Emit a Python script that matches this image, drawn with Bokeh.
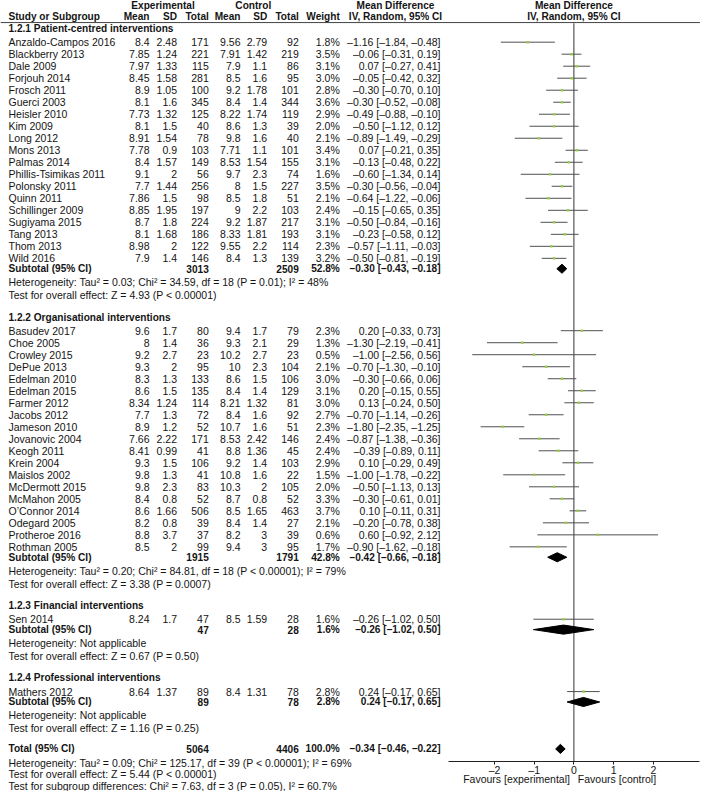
from bokeh.plotting import figure
from bokeh.models import Range1d, LinearAxis, FixedTicker, ColumnDataSource
from bokeh.core.properties import value
from bokeh.embed import file_html
from bokeh.resources import INLINE

# ---------------- data ----------------
g1_title = "1.2.1 Patient-centred interventions"
g1_study = ["Anzaldo-Campos 2016", "Blackberry 2013", "Dale 2009", "Forjouh 2014", "Frosch 2011",
            "Guerci 2003", "Heisler 2010", "Kim 2009", "Long 2012", "Mons 2013", "Palmas 2014",
            "Phillis-Tsimikas 2011", "Polonsky 2011", "Quinn 2011", "Schillinger 2009",
            "Sugiyama 2015", "Tang 2013", "Thom 2013", "Wild 2016"]
g1_e_mean = [8.4, 7.85, 7.97, 8.45, 8.9, 8.1, 7.73, 8.1, 8.91, 7.78, 8.4, 9.1, 7.7, 7.86, 8.85, 8.7, 8.1, 8.98, 7.9]
g1_e_sd = [2.48, 1.24, 1.33, 1.58, 1.05, 1.6, 1.32, 1.5, 1.54, 0.9, 1.57, 2, 1.44, 1.5, 1.95, 1.8, 1.68, 2, 1.4]
g1_e_n = [171, 221, 115, 281, 100, 345, 125, 40, 78, 103, 149, 56, 256, 98, 197, 224, 186, 122, 146]
g1_c_mean = [9.56, 7.91, 7.9, 8.5, 9.2, 8.4, 8.22, 8.6, 9.8, 7.71, 8.53, 9.7, 8, 8.5, 9, 9.2, 8.33, 9.55, 8.4]
g1_c_sd = [2.79, 1.42, 1.1, 1.6, 1.78, 1.4, 1.74, 1.3, 1.6, 1.1, 1.54, 2.3, 1.5, 1.8, 2.2, 1.87, 1.81, 2.2, 1.3]
g1_c_n = [92, 219, 86, 95, 101, 344, 119, 39, 40, 101, 155, 74, 227, 51, 103, 217, 193, 114, 139]
g1_weight = [1.8, 3.5, 3.1, 3.0, 2.8, 3.6, 2.9, 2.0, 2.1, 3.4, 3.1, 1.6, 3.5, 2.1, 2.4, 3.1, 3.1, 2.3, 3.2]
g1_md = [-1.16, -0.06, 0.07, -0.05, -0.30, -0.30, -0.49, -0.50, -0.89, 0.07, -0.13, -0.60, -0.30, -0.64, -0.15, -0.50, -0.23, -0.57, -0.50]
g1_lo = [-1.84, -0.31, -0.27, -0.42, -0.70, -0.52, -0.88, -1.12, -1.49, -0.21, -0.48, -1.34, -0.56, -1.22, -0.65, -0.84, -0.58, -1.11, -0.81]
g1_hi = [-0.48, 0.19, 0.41, 0.32, 0.10, -0.08, -0.10, 0.12, -0.29, 0.35, 0.22, 0.14, -0.04, -0.06, 0.35, -0.16, 0.12, -0.03, -0.19]
g1_sub = [3013, 2509, 52.8, -0.30, -0.43, -0.18]
g1_het = "Heterogeneity: Tau² = 0.03; Chi² = 34.59, df = 18 (P = 0.01); I² = 48%"
g1_test = "Test for overall effect: Z = 4.93 (P < 0.00001)"

g2_title = "1.2.2 Organisational interventions"
g2_study = ["Basudev 2017", "Choe 2005", "Crowley 2015", "DePue 2013", "Edelman 2010", "Edelman 2015",
            "Farmer 2012", "Jacobs 2012", "Jameson 2010", "Jovanovic 2004", "Keogh 2011", "Krein 2004",
            "Maislos 2002", "McDermott 2015", "McMahon 2005", "O’Connor 2014", "Odegard 2005",
            "Protheroe 2016", "Rothman 2005"]
g2_e_mean = [9.6, 8, 9.2, 9.3, 8.3, 8.6, 8.34, 7.7, 8.9, 7.66, 8.41, 9.3, 9.8, 9.8, 8.4, 8.6, 8.2, 8.8, 8.5]
g2_e_sd = [1.7, 1.4, 2.7, 2, 1.3, 1.5, 1.24, 1.3, 1.2, 2.22, 0.99, 1.5, 1.3, 2.3, 0.8, 1.66, 0.8, 3.7, 2]
g2_e_n = [80, 36, 23, 95, 133, 135, 114, 72, 52, 171, 41, 106, 41, 83, 52, 506, 39, 37, 99]
g2_c_mean = [9.4, 9.3, 10.2, 10, 8.6, 8.4, 8.21, 8.4, 10.7, 8.53, 8.8, 9.2, 10.8, 10.3, 8.7, 8.5, 8.4, 8.2, 9.4]
g2_c_sd = [1.7, 2.1, 2.7, 2.3, 1.5, 1.4, 1.32, 1.6, 1.6, 2.42, 1.36, 1.4, 1.6, 2, 0.8, 1.65, 1.4, 3, 3]
g2_c_n = [79, 29, 23, 104, 106, 129, 81, 92, 51, 146, 45, 103, 22, 105, 52, 463, 27, 39, 95]
g2_weight = [2.3, 1.3, 0.5, 2.1, 3.0, 3.1, 3.0, 2.7, 2.3, 2.4, 2.4, 2.9, 1.5, 2.0, 3.3, 3.7, 2.1, 0.6, 1.7]
g2_md = [0.20, -1.30, -1.00, -0.70, -0.30, 0.20, 0.13, -0.70, -1.80, -0.87, -0.39, 0.10, -1.00, -0.50, -0.30, 0.10, -0.20, 0.60, -0.90]
g2_lo = [-0.33, -2.19, -2.56, -1.30, -0.66, -0.15, -0.24, -1.14, -2.35, -1.38, -0.89, -0.29, -1.78, -1.13, -0.61, -0.11, -0.78, -0.92, -1.62]
g2_hi = [0.73, -0.41, 0.56, -0.10, 0.06, 0.55, 0.50, -0.26, -1.25, -0.36, 0.11, 0.49, -0.22, 0.13, 0.01, 0.31, 0.38, 2.12, -0.18]
g2_sub = [1915, 1791, 42.8, -0.42, -0.66, -0.18]
g2_het = "Heterogeneity: Tau² = 0.20; Chi² = 84.81, df = 18 (P < 0.00001); I² = 79%"
g2_test = "Test for overall effect: Z = 3.38 (P = 0.0007)"

g3_title = "1.2.3 Financial interventions"
g3_study = ["Sen 2014"]
g3_e_mean = [8.24]
g3_e_sd = [1.7]
g3_e_n = [47]
g3_c_mean = [8.5]
g3_c_sd = [1.59]
g3_c_n = [28]
g3_weight = [1.6]
g3_md = [-0.26]
g3_lo = [-1.02]
g3_hi = [0.50]
g3_sub = [47, 28, 1.6, -0.26, -1.02, 0.50]
g3_het = "Heterogeneity: Not applicable"
g3_test = "Test for overall effect: Z = 0.67 (P = 0.50)"

g4_title = "1.2.4 Professional interventions"
g4_study = ["Mathers 2012"]
g4_e_mean = [8.64]
g4_e_sd = [1.37]
g4_e_n = [89]
g4_c_mean = [8.4]
g4_c_sd = [1.31]
g4_c_n = [78]
g4_weight = [2.8]
g4_md = [0.24]
g4_lo = [-0.17]
g4_hi = [0.65]
g4_sub = [89, 78, 2.8, 0.24, -0.17, 0.65]
g4_het = "Heterogeneity: Not applicable"
g4_test = "Test for overall effect: Z = 1.16 (P = 0.25)"

total_row = [5064, 4406, 100.0, -0.34, -0.46, -0.22]
total_lines = ["Heterogeneity: Tau² = 0.09; Chi² = 125.17, df = 39 (P < 0.00001); I² = 69%",
               "Test for overall effect: Z = 5.44 (P < 0.00001)",
               "Test for subgroup differences: Chi² = 7.63, df = 3 (P = 0.05), I² = 60.7%"]

axis_ticks = [-2, -1, 0, 1, 2]
axis_tick_labels = ["–2", "–1", "0", "1", "2"]
favours_left = "Favours [experimental]"
favours_right = "Favours [control]"

groups = [
    (g1_title, g1_study, g1_e_mean, g1_e_sd, g1_e_n, g1_c_mean, g1_c_sd, g1_c_n, g1_weight, g1_md, g1_lo, g1_hi, g1_sub, g1_het, g1_test),
    (g2_title, g2_study, g2_e_mean, g2_e_sd, g2_e_n, g2_c_mean, g2_c_sd, g2_c_n, g2_weight, g2_md, g2_lo, g2_hi, g2_sub, g2_het, g2_test),
    (g3_title, g3_study, g3_e_mean, g3_e_sd, g3_e_n, g3_c_mean, g3_c_sd, g3_c_n, g3_weight, g3_md, g3_lo, g3_hi, g3_sub, g3_het, g3_test),
    (g4_title, g4_study, g4_e_mean, g4_e_sd, g4_e_n, g4_c_mean, g4_c_sd, g4_c_n, g4_weight, g4_md, g4_lo, g4_hi, g4_sub, g4_het, g4_test),
]

# ---------------- styling / layout ----------------
FONT = "Liberation Sans"
FS = "10.5px"
FSB = "10.1px"
TXT = "#141414"
ZERO_PX = 573.4      # pixel position of MD = 0
PX_PER_UNIT = 39.7   # pixels per MD unit
X0, X1 = 0, 700
Y_TOP, Y_BOT = 0, 799

# column anchors (right edges unless noted)
C_NAME = 8
C_EM, C_ESD, C_EN = 149, 176.5, 208.3
C_CM, C_CSD, C_CN = 240, 266.7, 298.3
C_W = 339.3
C_MD = 440
C_MDHEAD = 395


def num(v):
    return f"{v:g}"


def dash(s):
    return s.replace("-", "–")


def mdtxt(m, lo, hi):
    return dash(f"{m:.2f} [{lo:.2f}, {hi:.2f}]")


p = figure(width=X1 - X0, height=791,
           x_range=Range1d(X0, X1), y_range=Range1d(Y_BOT, Y_TOP),
           output_backend="svg", toolbar_location=None, min_border=0,
           x_axis_location=None, y_axis_location=None, outline_line_color=None)
p.grid.visible = False
p.extra_x_ranges = {"md": Range1d((X0 - ZERO_PX) / PX_PER_UNIT, (X1 - ZERO_PX) / PX_PER_UNIT)}

texts = {}


def T(x, y, t, align="left", bold=False, rng="default"):
    key = (align, bold, rng)
    d = texts.setdefault(key, {"x": [], "y": [], "t": []})
    d["x"].append(x)
    d["y"].append(y)
    d["t"].append(t)


# headers
H0, H1 = 5.0, 16.0
T(162.5, H0, "Experimental", "center", True)
T(252.8, H0, "Control", "center", True)
T(C_MDHEAD, H0, "Mean Difference", "center", True)
T(0, H0, "Mean Difference", "center", True, "md")
T(C_NAME, H1, "Study or Subgroup", "left", True)
for x, lab in [(C_EM, "Mean"), (C_ESD, "SD"), (C_EN, "Total"), (C_CM, "Mean"),
               (C_CSD, "SD"), (C_CN, "Total"), (C_W, "Weight")]:
    T(x, H1, lab, "right", True)
T(C_MDHEAD, H1, "IV, Random, 95% CI", "center", True)
T(0, H1, "IV, Random, 95% CI", "center", True, "md")
p.segment(x0=[0], x1=[X1], y0=[22.3], y1=[22.3], line_color="#444444", line_width=1)

# rows
ci_x0, ci_x1, ci_y, pt_x, pt_w = [], [], [], [], []
dia_xs, dia_ys = [], []
DH = 4.6
y = 28.3
for gi, (title, st, em, esd, en, cm, csd, cn, w, md, lo, hi, sub, het, test) in enumerate(groups):
    T(C_NAME, y, title, "left", True)
    y += 13.8
    for i in range(len(st)):
        T(C_NAME, y, st[i])
        T(C_EM, y, num(em[i]), "right")
        T(C_ESD, y, num(esd[i]), "right")
        T(C_EN, y, num(en[i]), "right")
        T(C_CM, y, num(cm[i]), "right")
        T(C_CSD, y, num(csd[i]), "right")
        T(C_CN, y, num(cn[i]), "right")
        T(C_W, y, f"{w[i]:.1f}%", "right")
        T(C_MD, y, mdtxt(md[i], lo[i], hi[i]), "right")
        ci_x0.append(lo[i]); ci_x1.append(hi[i]); ci_y.append(y)
        pt_x.append(md[i]); pt_w.append(w[i])
        if i < len(st) - 1:
            y += 12.13
    y += 10.5
    T(C_NAME, y, "Subtotal (95% CI)", "left", True)
    T(C_EN, y, num(sub[0]), "right", True)
    T(C_CN, y, num(sub[1]), "right", True)
    T(C_W, y, f"{sub[2]:.1f}%", "right", True)
    T(C_MD, y, mdtxt(sub[3], sub[4], sub[5]), "right", True)
    dia_xs.append([sub[4], sub[3], sub[5], sub[3]])
    dia_ys.append([y, y - DH, y, y + DH])
    y += 13.6
    T(C_NAME, y, het)
    y += 13.0
    T(C_NAME, y, test)
    if gi < len(groups) - 1:
        y += 22.2
    else:
        y += 20.8

T(C_NAME, y, "Total (95% CI)", "left", True)
T(C_EN, y, num(total_row[0]), "right", True)
T(C_CN, y, num(total_row[1]), "right", True)
T(C_W, y, f"{total_row[2]:.1f}%", "right", True)
T(C_MD, y, mdtxt(total_row[3], total_row[4], total_row[5]), "right", True)
dia_xs.append([total_row[4], total_row[3], total_row[5], total_row[3]])
dia_ys.append([y, y - DH, y, y + DH])
y += 13.8
for line in total_lines:
    T(C_NAME, y, line)
    y += 11.7

AXIS_Y = 768.3

# forest plot glyphs
p.segment(x0=[0], x1=[0], y0=[23.0], y1=[AXIS_Y], x_range_name="md", line_color="#333333", line_width=1)
ci = ColumnDataSource(dict(x0=ci_x0, x1=ci_x1, y=ci_y))
p.segment(x0="x0", x1="x1", y0="y", y1="y", source=ci, x_range_name="md",
          line_color="#505050", line_width=1)
pts = ColumnDataSource(dict(x=pt_x, y=ci_y, w=pt_w))
p.scatter(x="x", y="y", source=pts, x_range_name="md", marker="square", size=2.5,
          fill_color="#9ccc4a", line_color=None)
p.patches(xs=dia_xs, ys=dia_ys, x_range_name="md", fill_color="black", line_color="black", line_width=1)

ax = LinearAxis(x_range_name="md", fixed_location=AXIS_Y, bounds=(-3.17, 3.17),
                ticker=FixedTicker(ticks=axis_ticks),
                major_label_overrides={t: l for t, l in zip(axis_ticks, axis_tick_labels)})
ax.major_tick_in = 0
ax.major_tick_out = 3
ax.minor_tick_line_color = None
ax.major_label_standoff = 0
ax.major_label_text_font = FONT
ax.major_label_text_font_size = FS
ax.major_label_text_color = TXT
ax.axis_line_color = "#222222"
ax.major_tick_line_color = "#222222"
p.add_layout(ax, "below")

T(-0.1, 786.0, favours_left, "right", False, "md")
T(0.1, 786.0, favours_right, "left", False, "md")

for (align, bold, rng), d in texts.items():
    kw = {} if rng == "default" else {"x_range_name": rng}
    p.text(x=d["x"], y=d["y"], text=d["t"], text_align=align, text_baseline="middle",
           text_font=value(FONT), text_font_size=FSB if bold else FS, text_color=TXT,
           text_font_style="bold" if bold else "normal", **kw)

open("out.html", "w").write(file_html(p, INLINE))
